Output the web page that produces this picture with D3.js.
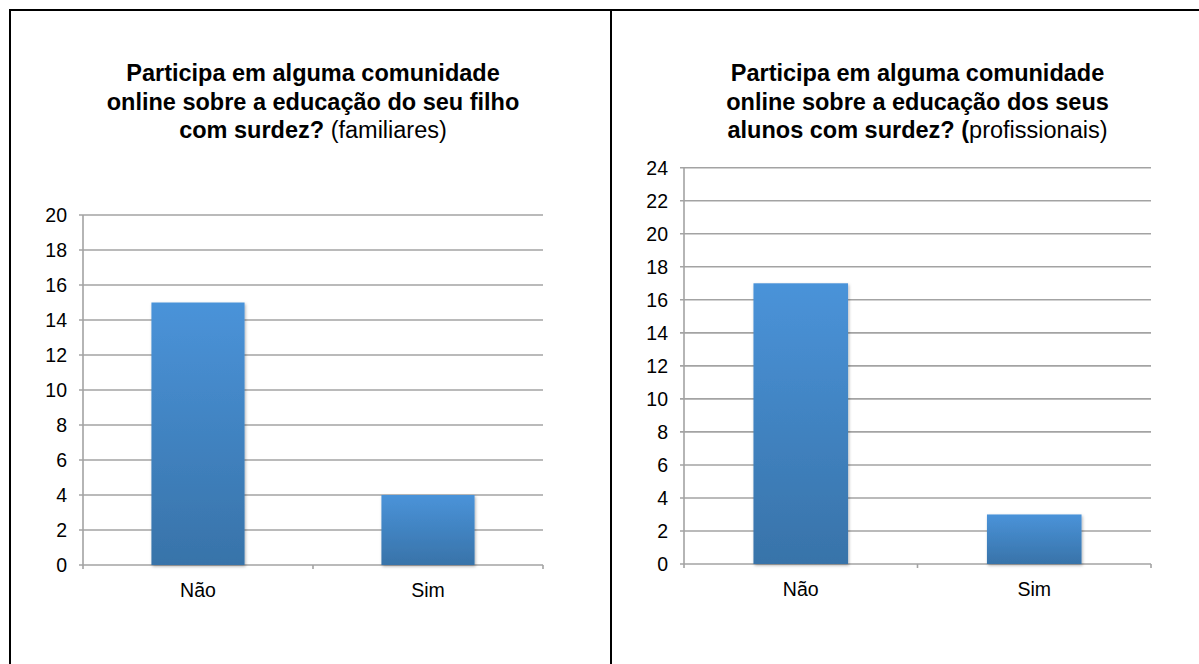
<!DOCTYPE html>
<html>
<head>
<meta charset="utf-8">
<script src="https://cdn.jsdelivr.net/npm/d3@7"></script>
<style>
  html, body { margin: 0; padding: 0; background: #fff; }
  svg { display: block; font-family: "Liberation Sans", Arial, Helvetica, sans-serif; }
</style>
</head>
<body>
<svg id="chart" width="1199" height="664"></svg>
<script>
// Survey answers: "Participa em alguma comunidade online ...?"
const categories = ["Não", "Sim"];
const familiaresValues = [15, 4];
const profissionaisValues = [17, 3];
const familiaresTicks = [0, 2, 4, 6, 8, 10, 12, 14, 16, 18, 20];
const profissionaisTicks = [0, 2, 4, 6, 8, 10, 12, 14, 16, 18, 20, 22, 24];
const familiaresTitle = [
  [["Participa em alguma comunidade", true]],
  [["online sobre a educação do seu filho", true]],
  [["com surdez?", true], [" (familiares)", false]]
];
const profissionaisTitle = [
  [["Participa em alguma comunidade", true]],
  [["online sobre a educação dos seus", true]],
  [["alunos com surdez? (", true], ["profissionais)", false]]
];

const svg = d3.select("#chart");

// Bar fill gradient and soft shadow
const defs = svg.append("defs");
const grad = defs.append("linearGradient")
  .attr("id", "barFill").attr("x1", 0).attr("y1", 0).attr("x2", 0).attr("y2", 1);
grad.append("stop").attr("offset", "0%").attr("stop-color", "#4a93d9");
grad.append("stop").attr("offset", "100%").attr("stop-color", "#3873a9");
const shadow = defs.append("filter").attr("id", "barShadow")
  .attr("x", "-20%").attr("y", "-20%").attr("width", "140%").attr("height", "140%");
shadow.append("feDropShadow")
  .attr("dx", 1).attr("dy", 1.5).attr("stdDeviation", 1.5)
  .attr("flood-color", "#000").attr("flood-opacity", 0.3);

// Table frame
const frame = svg.append("g").attr("stroke", "#000").attr("stroke-width", 2);
frame.append("line").attr("x1", 9).attr("x2", 1199).attr("y1", 10).attr("y2", 10);
frame.append("line").attr("x1", 10).attr("x2", 10).attr("y1", 9).attr("y2", 664);
frame.append("line").attr("x1", 611).attr("x2", 611).attr("y1", 9).attr("y2", 664);

function drawPanel(opts) {
  const { left, right, top, bottom, values, ticks, title } = opts;
  const g = svg.append("g");
  const gridColor = "#a3a3a3";

  const x = d3.scaleBand().domain(categories).range([left, right])
    .paddingInner(0.595).paddingOuter(0.2975);
  const xEdge = d3.scaleBand().domain(categories).range([left, right]);
  const y = d3.scaleLinear().domain([0, d3.max(ticks)]).range([bottom, top]);

  // Title
  const cx = (left + right) / 2;
  const t = g.append("text").attr("text-anchor", "middle")
    .attr("font-size", 23.5).attr("fill", "#000");
  title.forEach((parts, i) => {
    const line = t.append("tspan").attr("x", cx).attr("y", 81 + i * 28.5);
    parts.forEach(([txt, bold]) => {
      line.append("tspan").attr("font-weight", bold ? "bold" : "normal").text(txt);
    });
  });

  // Horizontal gridlines with outward tick marks
  g.append("g").selectAll("line").data(ticks).join("line")
    .attr("x1", left - 4).attr("x2", right)
    .attr("y1", d => y(d)).attr("y2", d => y(d))
    .attr("stroke", gridColor).attr("stroke-width", 1.6);

  // Y tick labels
  g.append("g").selectAll("text").data(ticks).join("text")
    .attr("x", left - 16).attr("y", d => y(d))
    .attr("dy", "0.36em").attr("text-anchor", "end")
    .attr("font-size", 19.5).attr("fill", "#000")
    .text(d => d);

  // Value axis line
  g.append("line").attr("x1", left).attr("x2", left)
    .attr("y1", y(d3.max(ticks))).attr("y2", bottom + 4)
    .attr("stroke", gridColor).attr("stroke-width", 1.6);

  // Category boundary ticks
  const edges = categories.map(c => xEdge(c)).concat([right]);
  g.append("g").selectAll("line").data(edges.slice(1)).join("line")
    .attr("x1", d => d).attr("x2", d => d)
    .attr("y1", bottom).attr("y2", bottom + 4)
    .attr("stroke", gridColor).attr("stroke-width", 1.6);

  // Bars
  g.append("g").selectAll("rect").data(values).join("rect")
    .attr("x", (d, i) => x(categories[i]))
    .attr("width", x.bandwidth())
    .attr("y", d => y(d))
    .attr("height", d => bottom - y(d))
    .attr("fill", "url(#barFill)")
    .attr("filter", "url(#barShadow)");

  // Category labels
  g.append("g").selectAll("text").data(categories).join("text")
    .attr("x", d => xEdge(d) + xEdge.bandwidth() / 2)
    .attr("y", bottom + 25).attr("dy", "0.36em")
    .attr("text-anchor", "middle")
    .attr("font-size", 19.5).attr("fill", "#000")
    .text(d => d);
}

drawPanel({ left: 83, right: 543, top: 215, bottom: 565,
  values: familiaresValues, ticks: familiaresTicks, title: familiaresTitle });
drawPanel({ left: 684, right: 1151, top: 167.7, bottom: 564,
  values: profissionaisValues, ticks: profissionaisTicks, title: profissionaisTitle });
</script>
</body>
</html>
